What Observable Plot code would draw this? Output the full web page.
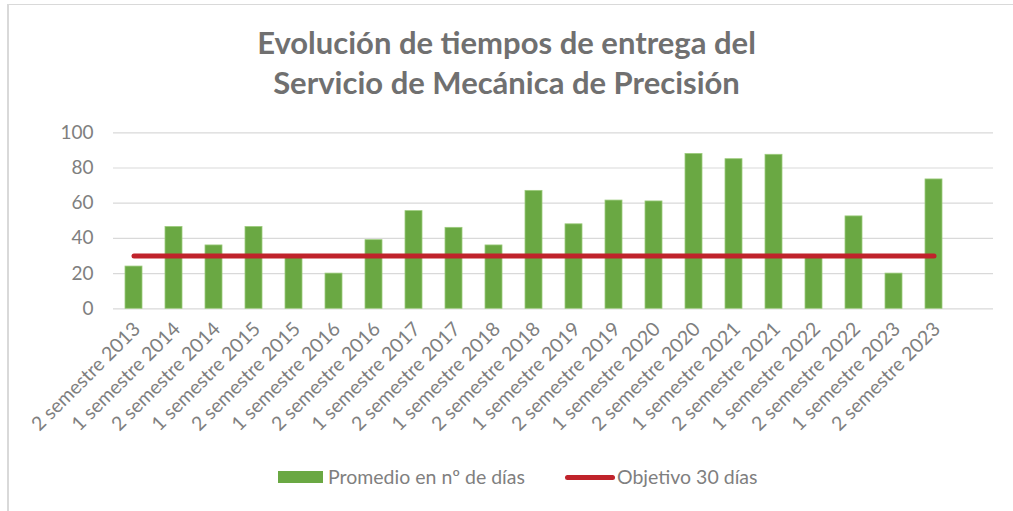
<!DOCTYPE html>
<html>
<head>
<meta charset="utf-8">
<script src="https://cdn.jsdelivr.net/npm/d3@7"></script>
<script src="https://cdn.jsdelivr.net/npm/@observablehq/plot@0.6"></script>
<style>
  body { margin: 0; background: #fff; font-family: Lato, "Open Sans", sans-serif; }
  #frame { position: relative; width: 1013px; height: 511px; overflow: hidden; background: #fff; }
  #border { position: absolute; left: 7px; top: 4px; width: 1200px; height: 700px;
            border-top: 1px solid #d9d9d9; border-left: 2px solid #d9d9d9; }
  #title { position: absolute; top: 22px; left: 0; width: 1013px; text-align: center;
           font-weight: bold; font-size: 31px; line-height: 40px; color: #707070; }
  #chart { position: absolute; left: 0; top: 115px; }
  .leg { position: absolute; font-size: 19.5px; color: #7f7f7f; line-height: 20px; white-space: nowrap; }
  .sw-bar { position: absolute; left: 278px; top: 471px; width: 45px; height: 12px; background: #6aa843; }
  .sw-line { position: absolute; left: 565px; top: 475px; width: 50px; height: 5px; border-radius: 3px; background: #c0232b; }
</style>
</head>
<body>
<div id="frame">
  <div id="border"></div>
  <div id="title">Evolución de tiempos de entrega del<br>Servicio de Mecánica de Precisión</div>
  <div id="chart"></div>
  <div class="sw-bar"></div>
  <div class="leg" id="leg1" style="left:328px; top:467px;"></div>
  <div class="sw-line"></div>
  <div class="leg" id="leg2" style="left:617px; top:467px;"></div>
</div>
<script>
// Semesters on the horizontal axis
const periods = [
  "2 semestre 2013", "1 semestre 2014", "2 semestre 2014", "1 semestre 2015",
  "2 semestre 2015", "1 semestre 2016", "2 semestre 2016", "1 semestre 2017",
  "2 semestre 2017", "1 semestre 2018", "2 semestre 2018", "1 semestre 2019",
  "2 semestre 2019", "1 semestre 2020", "2 semestre 2020", "1 semestre 2021",
  "2 semestre 2021", "1 semestre 2022", "2 semestre 2022", "1 semestre 2023",
  "2 semestre 2023"
];

// Average delivery time (days) per semester
const promedioDias = [
  24, 46.5, 36, 46.5, 29, 20, 39, 55.5, 46, 36, 67,
  48, 61.5, 61, 88, 85, 87.5, 29, 52.5, 20, 73.5
];

// Target delivery time (days)
const objetivoDias = [
  30, 30, 30, 30, 30, 30, 30, 30, 30, 30, 30,
  30, 30, 30, 30, 30, 30, 30, 30, 30, 30
];

const yTicks = [0, 20, 40, 60, 80, 100];

const seriesNames = ["Promedio en nº de días", "Objetivo 30 días"];

const rows = periods.map((p, i) => ({ periodo: p, dias: promedioDias[i], objetivo: objetivoDias[i] }));

const chart = Plot.plot({
  width: 1013,
  height: 340,
  marginLeft: 113,
  marginRight: 20,
  marginTop: 17.3,
  marginBottom: 146.7,
  style: { fontFamily: "Lato, 'Open Sans', sans-serif", background: "transparent" },
  x: {
    type: "band",
    domain: periods,
    range: [113, 953],
    paddingInner: 0.58,
    paddingOuter: 0.29,
    align: 0.5
  },
  y: { domain: [0, 100] },
  marks: [
    Plot.ruleY(yTicks, { stroke: "#d9d9d9", strokeWidth: 1.2 }),
    Plot.barY(rows, { x: "periodo", y: "dias", fill: "#6aa843", stroke: "#9ccb7c", strokeWidth: 0.8 }),
    Plot.lineY(rows, { x: "periodo", y: "objetivo", stroke: "#c0232b", strokeWidth: 5, strokeLinecap: "round" }),
    Plot.axisY({ ticks: yTicks, tickSize: 0, tickPadding: 20, fontSize: 19, fill: "#7f7f7f", label: null }),
    Plot.axisX({ tickSize: 0, tickPadding: 17, tickRotate: -45, fontSize: 19.5, fill: "#7f7f7f", label: null, dx: 3 })
  ]
});

document.getElementById("chart").appendChild(chart);
document.getElementById("leg1").textContent = seriesNames[0];
document.getElementById("leg2").textContent = seriesNames[1];
</script>
</body>
</html>
